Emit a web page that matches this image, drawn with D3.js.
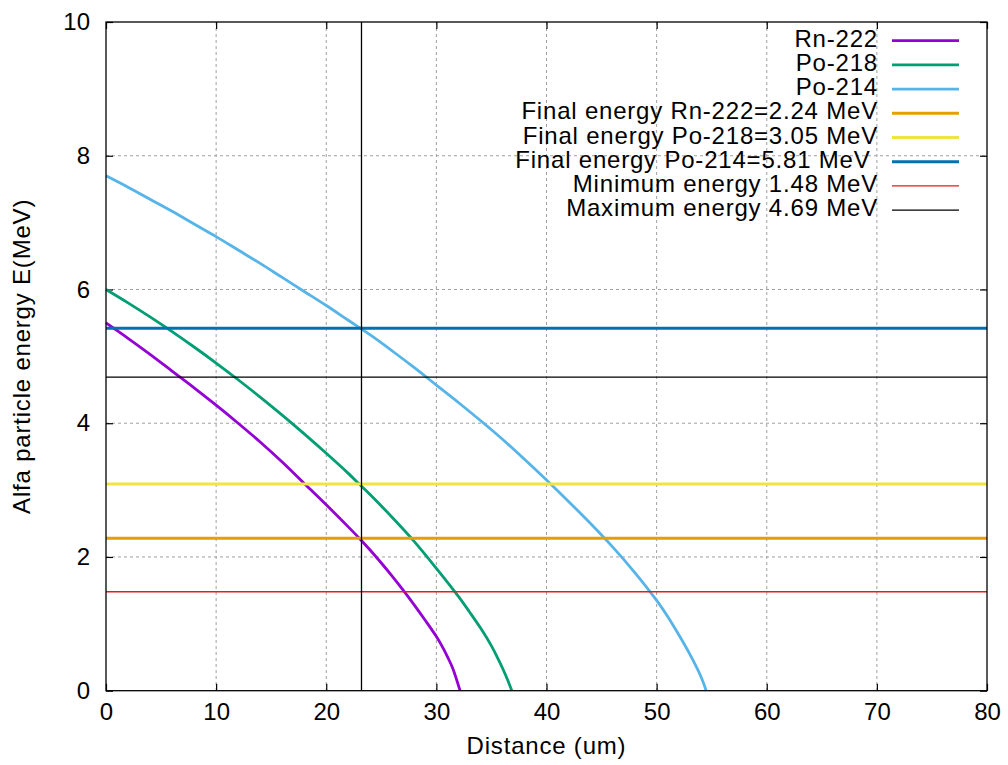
<!DOCTYPE html>
<html>
<head>
<meta charset="utf-8">
<script src="https://cdn.jsdelivr.net/npm/d3@7/dist/d3.min.js"></script>
<style>
  html, body { margin: 0; padding: 0; background: #fff; }
  svg { display: block; }
  text { font-family: "Liberation Sans", Arial, sans-serif; fill: #000; }
  .wide { letter-spacing: 0.8px; }
</style>
</head>
<body>
<svg id="chart" width="1008" height="765"></svg>
<script>
// Alpha particle energy versus distance travelled, for the three radon-chain emitters.
const rnDistance  = [0, 2, 4, 6, 8, 10, 12, 14, 16, 18, 20, 22, 23, 24, 25, 26, 27, 28, 29, 30, 30.5, 31, 31.5, 32.15];
const rnEnergy    = [5.50, 5.27, 5.03, 4.78, 4.53, 4.27, 4.00, 3.72, 3.42, 3.10, 2.78, 2.45, 2.28, 2.10, 1.91, 1.71, 1.50, 1.28, 1.05, 0.81, 0.67, 0.51, 0.33, 0];

const po218Distance = [0, 2, 4, 6, 8, 10, 12, 14, 16, 18, 20, 22, 23, 24, 26, 28, 30, 32, 33, 34, 35, 35.5, 36, 36.5, 36.85];
const po218Energy   = [6.00, 5.80, 5.59, 5.37, 5.14, 4.90, 4.65, 4.39, 4.12, 3.84, 3.55, 3.25, 3.09, 2.93, 2.59, 2.23, 1.83, 1.41, 1.18, 0.94, 0.67, 0.51, 0.34, 0.15, 0];

const po214Distance = [0, 2, 4, 6, 8, 10, 12, 14, 16, 18, 20, 22, 24, 26, 28, 30, 32, 34, 36, 38, 40, 42, 44, 46, 48, 50, 51, 52, 53, 54, 54.5];
const po214Energy   = [7.70, 7.53, 7.35, 7.17, 6.98, 6.79, 6.59, 6.39, 6.18, 5.97, 5.76, 5.54, 5.32, 5.08, 4.83, 4.57, 4.31, 4.04, 3.76, 3.46, 3.15, 2.83, 2.50, 2.15, 1.77, 1.35, 1.11, 0.84, 0.55, 0.22, 0];

// Horizontal reference levels (MeV) and the cut distance (um)
const finalLevels   = [2.28, 3.09, 5.42];
const minimumEnergy = 1.48;
const maximumEnergy = 4.69;
const cutDistance   = 23.2;

const xTicks = [0, 10, 20, 30, 40, 50, 60, 70, 80];
const yTicks = [0, 2, 4, 6, 8, 10];

const curveNames = ["Rn-222", "Po-218", "Po-214"];
const levelNames = [
  "Final energy Rn-222=2.24 MeV",
  "Final energy Po-218=3.05 MeV",
  "Final energy Po-214=5.81 MeV ",
  "Minimum energy 1.48 MeV",
  "Maximum energy 4.69 MeV"
];

const curveColors = ["#9400d3", "#009e73", "#56b4e9"];
const levelColors = ["#e69f00", "#f0e442", "#0072b2", "#e51e10", "#000000"];
const levelWidths = [3, 3, 3, 1.3, 1.3];

const svg = d3.select("#chart");
const plotLeft = 106, plotRight = 987, plotTop = 22, plotBottom = 690.7;

const x = d3.scaleLinear().domain([0, 80]).range([plotLeft, plotRight]);
const y = d3.scaleLinear().domain([0, 10]).range([plotBottom, plotTop]);

// Dashed grid
const grid = svg.append("g").attr("stroke", "#a0a0a0").attr("stroke-width", 1)
  .attr("stroke-dasharray", "3,3").attr("fill", "none");
xTicks.slice(1, -1).forEach(t => {
  grid.append("line").attr("x1", x(t)).attr("x2", x(t)).attr("y1", plotTop).attr("y2", plotBottom);
});
yTicks.slice(1, -1).forEach(t => {
  grid.append("line").attr("x1", plotLeft).attr("x2", plotRight).attr("y1", y(t)).attr("y2", y(t));
});

// Axes with inward ticks, mirrored on top and right
const fontSize = 24;
const axB = svg.append("g").attr("transform", `translate(0,${plotBottom})`)
  .call(d3.axisBottom(x).tickValues(xTicks).tickFormat(d3.format("d")).tickSizeInner(-7).tickSizeOuter(0).tickPadding(12));
const axL = svg.append("g").attr("transform", `translate(${plotLeft},0)`)
  .call(d3.axisLeft(y).tickValues(yTicks).tickFormat(d3.format("d")).tickSizeInner(-7).tickSizeOuter(0).tickPadding(16));
const axT = svg.append("g").attr("transform", `translate(0,${plotTop})`)
  .call(d3.axisTop(x).tickValues(xTicks).tickFormat("").tickSizeInner(-7).tickSizeOuter(0));
const axR = svg.append("g").attr("transform", `translate(${plotRight},0)`)
  .call(d3.axisRight(y).tickValues(yTicks).tickFormat("").tickSizeInner(-7).tickSizeOuter(0));
[axB, axL, axT, axR].forEach(a => {
  a.select(".domain").remove();
  a.selectAll(".tick line").attr("stroke", "#000").attr("stroke-width", 1.2);
  a.selectAll("text").attr("font-size", fontSize).attr("font-family", "Liberation Sans, Arial, sans-serif").attr("fill", "#000");
});

// Energy curves
const line = d3.line().x(d => x(d[0])).y(d => y(d[1])).curve(d3.curveCatmullRom.alpha(0.5));
const curves = [
  d3.zip(rnDistance, rnEnergy),
  d3.zip(po218Distance, po218Energy),
  d3.zip(po214Distance, po214Energy)
];
curves.forEach((pts, i) => {
  svg.append("path").datum(pts).attr("d", line)
    .attr("fill", "none").attr("stroke", curveColors[i]).attr("stroke-width", 2.8)
    .attr("stroke-linejoin", "round");
});

// Horizontal energy levels
const levels = finalLevels.concat([minimumEnergy, maximumEnergy]);
levels.forEach((v, i) => {
  svg.append("line").attr("x1", plotLeft).attr("x2", plotRight).attr("y1", y(v)).attr("y2", y(v))
    .attr("stroke", levelColors[i]).attr("stroke-width", levelWidths[i]);
});

// Vertical cut at the chosen distance
svg.append("line").attr("x1", x(cutDistance)).attr("x2", x(cutDistance))
  .attr("y1", y(0)).attr("y2", y(10)).attr("stroke", "#000").attr("stroke-width", 1.3);

// Plot border
svg.append("rect").attr("x", plotLeft).attr("y", plotTop)
  .attr("width", plotRight - plotLeft).attr("height", plotBottom - plotTop)
  .attr("fill", "none").attr("stroke", "#000").attr("stroke-width", 1.3);

// Legend
const legendNames = curveNames.concat(levelNames);
const legendColors = curveColors.concat(levelColors);
const legendWidths = [2.8, 2.8, 2.8].concat(levelWidths);
const legend = svg.append("g");
legendNames.forEach((name, i) => {
  const ly = 40.7 + i * 24.2;
  legend.append("text").attr("class", "wide").attr("x", 878).attr("y", ly).attr("dy", "0.25em")
    .attr("text-anchor", "end").attr("font-size", fontSize)
    .attr("xml:space", "preserve").style("white-space", "pre")
    .text(name);
  legend.append("line").attr("x1", 892).attr("x2", 959).attr("y1", ly).attr("y2", ly)
    .attr("stroke", legendColors[i]).attr("stroke-width", legendWidths[i]);
});

// Axis titles
svg.append("text").attr("class", "wide").attr("x", (plotLeft + plotRight) / 2).attr("y", 746).attr("dy", "0.35em")
  .attr("text-anchor", "middle").attr("font-size", fontSize).text("Distance (um)");
svg.append("text").attr("class", "wide").attr("transform", `translate(22,${(plotTop + plotBottom) / 2}) rotate(-90)`)
  .attr("dy", "0.35em").attr("text-anchor", "middle").attr("font-size", fontSize)
  .text("Alfa particle energy E(MeV)");
</script>
</body>
</html>
